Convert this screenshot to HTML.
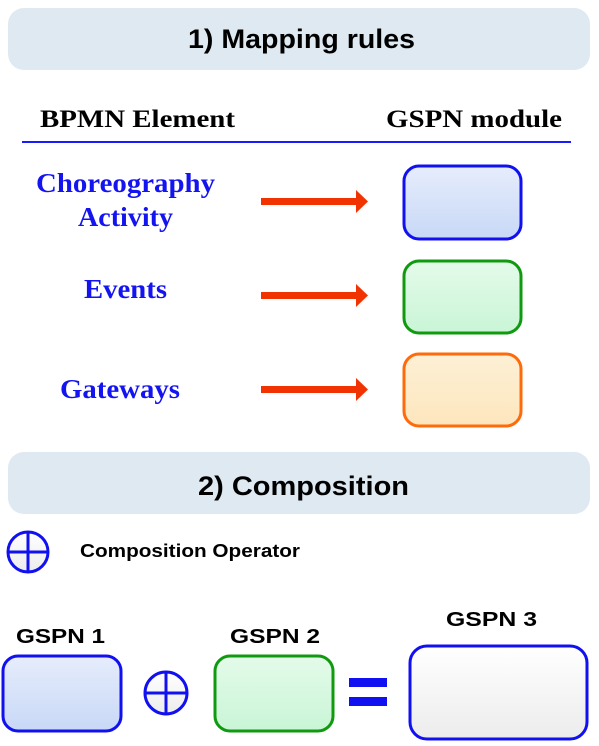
<!DOCTYPE html>
<html><head><meta charset="utf-8"><style>
html,body{margin:0;padding:0;background:#fff;width:599px;height:746px;overflow:hidden}
svg{display:block}
</style></head><body>
<svg width="599" height="746" viewBox="0 0 599 746" xmlns="http://www.w3.org/2000/svg">
<defs>
<linearGradient id="gb" x1="0" y1="0" x2="0" y2="1"><stop offset="0" stop-color="#e6edfc"/><stop offset="1" stop-color="#c8d8f6"/></linearGradient>
<linearGradient id="gg" x1="0" y1="0" x2="0" y2="1"><stop offset="0" stop-color="#e4fbea"/><stop offset="1" stop-color="#c9f5d6"/></linearGradient>
<linearGradient id="go" x1="0" y1="0" x2="0" y2="1"><stop offset="0" stop-color="#fdf0d6"/><stop offset="1" stop-color="#fde6bd"/></linearGradient>
<linearGradient id="gw" x1="0" y1="0" x2="0" y2="1"><stop offset="0" stop-color="#ffffff"/><stop offset="1" stop-color="#ececec"/></linearGradient>
</defs>
<rect x="8" y="8" width="582" height="62" rx="16" fill="#dfe9f2"/>
<text x="188" y="48" textLength="227" lengthAdjust="spacingAndGlyphs" font-family="Liberation Sans, sans-serif" font-weight="bold" font-size="27" fill="#000">1) Mapping rules</text>
<text x="40" y="127" textLength="195" lengthAdjust="spacingAndGlyphs" font-family="Liberation Serif, serif" font-weight="bold" font-size="25" fill="#000">BPMN Element</text>
<text x="386" y="127" textLength="176" lengthAdjust="spacingAndGlyphs" font-family="Liberation Serif, serif" font-weight="bold" font-size="25" fill="#000">GSPN module</text>
<line x1="22" y1="142" x2="571" y2="142" stroke="#1a1aff" stroke-width="2"/>
<g font-family="Liberation Serif, serif" font-weight="bold" font-size="27" fill="#1414f0" lengthAdjust="spacingAndGlyphs">
<text x="36" y="192" textLength="179" lengthAdjust="spacingAndGlyphs">Choreography</text>
<text x="78" y="226" textLength="95" lengthAdjust="spacingAndGlyphs">Activity</text>
<text x="84" y="298" textLength="83" lengthAdjust="spacingAndGlyphs">Events</text>
<text x="60" y="398" textLength="120" lengthAdjust="spacingAndGlyphs">Gateways</text>
</g>
<g fill="#f03300">
<rect x="261" y="198" width="97" height="7"/><polygon points="356,190 368,201.5 356,213"/>
<rect x="261" y="292" width="97" height="7"/><polygon points="356,284 368,295.5 356,307"/>
<rect x="261" y="386" width="97" height="7"/><polygon points="356,378 368,389.5 356,401"/>
</g>
<rect x="404" y="166" width="117" height="73" rx="15" fill="url(#gb)" stroke="#1010f0" stroke-width="3"/>
<rect x="404" y="261" width="117" height="72" rx="15" fill="url(#gg)" stroke="#109a10" stroke-width="3"/>
<rect x="404" y="354" width="117" height="72" rx="15" fill="url(#go)" stroke="#ff6a0a" stroke-width="3"/>
<rect x="8" y="452" width="582" height="62" rx="16" fill="#dfe9f2"/>
<text x="198" y="495" textLength="211" lengthAdjust="spacingAndGlyphs" font-family="Liberation Sans, sans-serif" font-weight="bold" font-size="27" fill="#000">2) Composition</text>
<circle cx="28" cy="552" r="20" fill="url(#gw)" stroke="#1010f0" stroke-width="3"/>
<line x1="8" y1="552" x2="48" y2="552" stroke="#1010f0" stroke-width="3"/>
<line x1="28" y1="532" x2="28" y2="572" stroke="#1010f0" stroke-width="3"/>
<text x="80" y="557" textLength="220" lengthAdjust="spacingAndGlyphs" font-family="Liberation Sans, sans-serif" font-weight="bold" font-size="18" fill="#000">Composition Operator</text>
<g font-family="Liberation Sans, sans-serif" font-weight="bold" font-size="20" fill="#000">
<text x="16" y="643" textLength="89" lengthAdjust="spacingAndGlyphs">GSPN  1</text>
<text x="230" y="643" textLength="90" lengthAdjust="spacingAndGlyphs">GSPN  2</text>
<text x="446" y="626" textLength="91" lengthAdjust="spacingAndGlyphs">GSPN  3</text>
</g>
<rect x="3" y="656" width="118" height="75" rx="15" fill="url(#gb)" stroke="#1010f0" stroke-width="3"/>
<circle cx="166" cy="693" r="21" fill="url(#gw)" stroke="#1010f0" stroke-width="3"/>
<line x1="145" y1="693" x2="187" y2="693" stroke="#1010f0" stroke-width="3"/>
<line x1="166" y1="672" x2="166" y2="714" stroke="#1010f0" stroke-width="3"/>
<rect x="215" y="656" width="118" height="75" rx="15" fill="url(#gg)" stroke="#109a10" stroke-width="3"/>
<rect x="349" y="678" width="38" height="9" fill="#1010f0"/>
<rect x="349" y="697" width="38" height="9" fill="#1010f0"/>
<rect x="410" y="646" width="177" height="93" rx="17" fill="url(#gw)" stroke="#1010f0" stroke-width="3"/>
</svg>
</body></html>
